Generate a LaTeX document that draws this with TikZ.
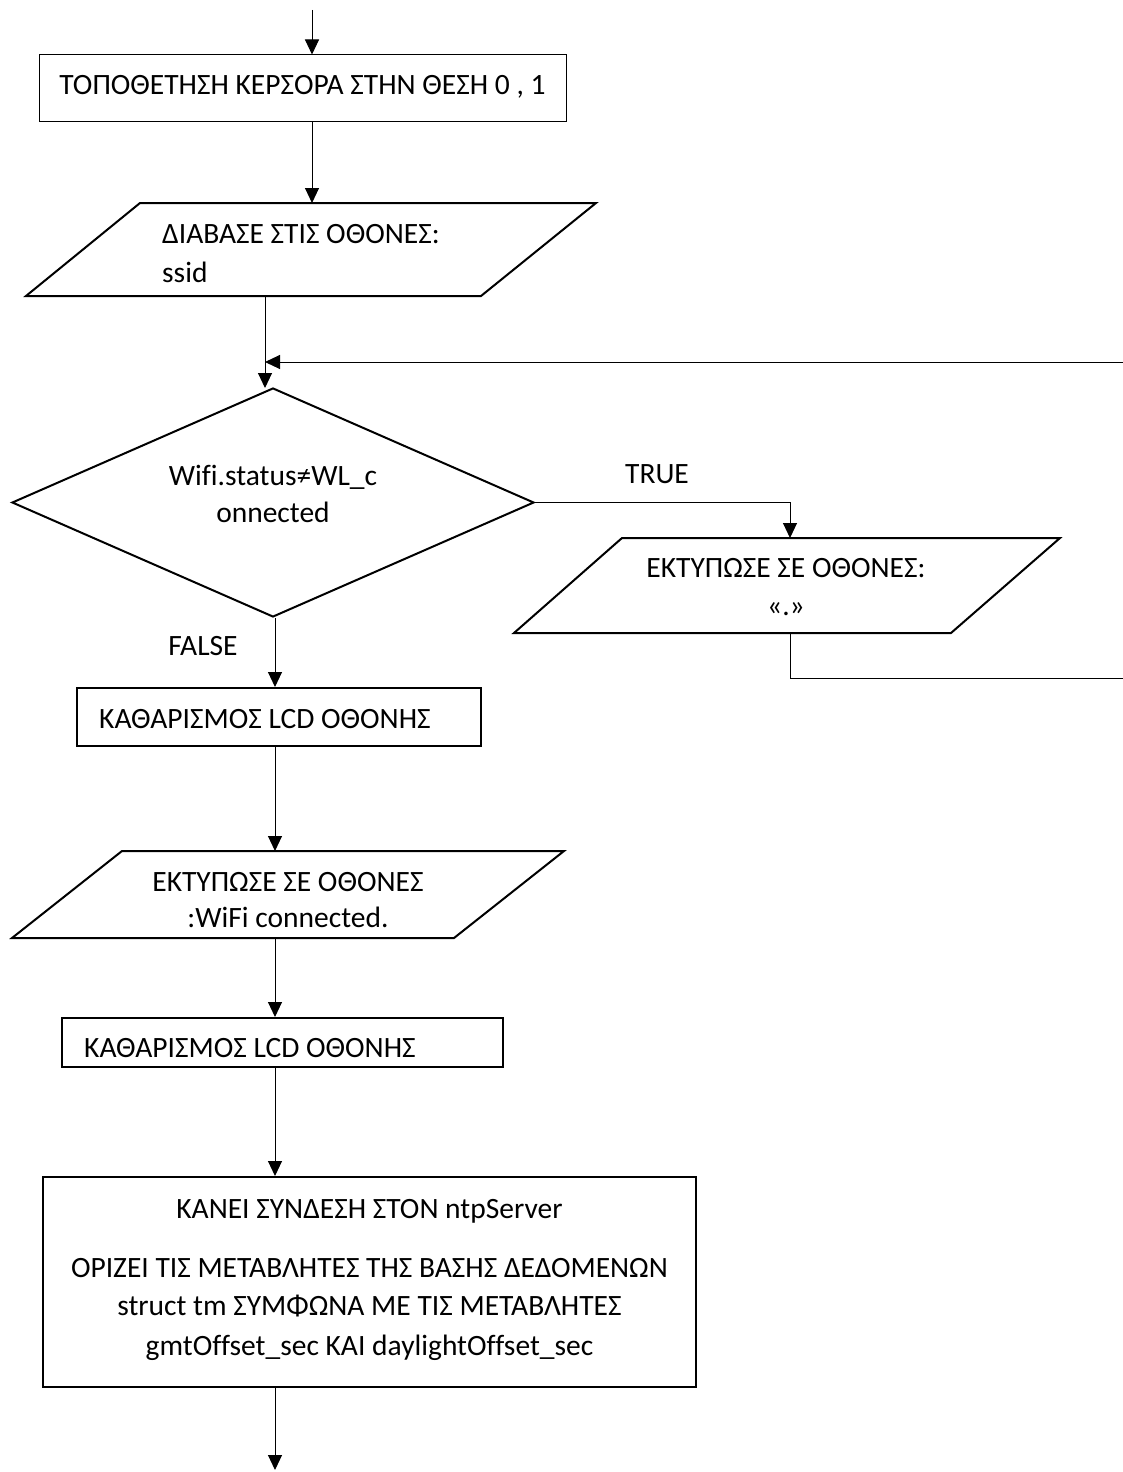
\documentclass[tikz,border=0pt]{standalone}
\usepackage{fontspec}
\setmainfont{Carlito}[Ligatures=NoCommon]
\usetikzlibrary{arrows.meta,shapes.geometric}
\begin{document}
\begin{tikzpicture}[x=1pt,y=-1pt,
  conn/.style={line width=1pt,-{Triangle[length=15pt,width=14pt]}},
  wire/.style={line width=1pt},
  thinbox/.style={draw,line width=1pt,inner sep=0pt},
  thickbox/.style={draw,line width=2pt,inner sep=0pt},
  txt/.style={font=\fontsize{29.5}{39}\selectfont,inner sep=0pt,anchor=base},
  txtl/.style={txt,anchor=base west}]
\useasboundingbox (0,0) rectangle (1123,1472);
\fill[white] (0,0) rectangle (1123,1472);

% entry point and loop edge points
\coordinate (entry) at (312,10);
\coordinate (loopin) at (1123,362);
\coordinate (loopout) at (1123,678);

% set cursor
\node[thinbox,minimum width=527pt,minimum height=66pt] (b1) at (302.5,88) {};
\node[txt] (t1) at (302.5,94) {ΤΟΠΟΘΕΤΗΣΗ ΚΕΡΣΟΡΑ ΣΤΗΝ ΘΕΣΗ 0 , 1};

% read ssid
\draw[line width=2pt] (140,203) coordinate (p1top) -- (596,203) -- (481,296) -- (26,296) -- cycle;
\coordinate (p1in) at (312,203);
\coordinate (p1out) at (265,296);
\node[txtl] (t2a) at (162,243) {ΔΙΑΒΑΣΕ ΣΤΙΣ ΟΘΟΝΕΣ:};
\node[txtl] (t2b) at (162,282) {ssid};

% wifi test
\node[draw,diamond,line width=2pt,inner sep=0pt,minimum width=522pt,minimum height=229pt] (d) at (273,502.5) {};
\coordinate (dtop) at (265,388);
\node[txt] (t3a) at (273,485) {Wifi.status≠WL\_c};
\node[txt] (t3b) at (273,522) {onnected};
\node[txt] (ltrue) at (657,483) {TRUE};
\node[txt] (lfalse) at (203,655) {FALSE};

% print dot
\draw[line width=2pt] (622,538) -- (1060,538) -- (951,633) -- (514,633) -- cycle;
\coordinate (p2in) at (790,538);
\coordinate (p2out) at (790,633);
\node[txt] (t4a) at (786,577) {ΕΚΤΥΠΩΣΕ ΣΕ ΟΘΟΝΕΣ:};
\node[txt] (t4b) at (786,615) {«.»};

% clear lcd
\node[thickbox,minimum width=404pt,minimum height=58pt] (b2) at (279,717) {};
\node[txtl] (t5) at (99,728) {ΚΑΘΑΡΙΣΜΟΣ LCD ΟΘΟΝΗΣ};

% print connected
\draw[line width=2pt] (122,851) -- (564,851) -- (454,938) -- (12,938) -- cycle;
\coordinate (p3in) at (275,851);
\coordinate (p3out) at (275,938);
\node[txt] (t6a) at (288,891) {ΕΚΤΥΠΩΣΕ ΣΕ ΟΘΟΝΕΣ};
\node[txt] (t6b) at (288,927) {:WiFi connected.};

% clear lcd again
\node[thickbox,minimum width=441pt,minimum height=49pt] (b3) at (282.5,1042.5) {};
\node[txtl] (t7) at (84,1057) {ΚΑΘΑΡΙΣΜΟΣ LCD ΟΘΟΝΗΣ};

% ntp setup
\node[thickbox,minimum width=653pt,minimum height=210pt] (b4) at (369.5,1282) {};
\node[txt] (t8a) at (369.5,1218) {ΚΑΝΕΙ ΣΥΝΔΕΣΗ ΣΤΟΝ ntpServer};
\node[txt] (t8b) at (369.5,1277) {ΟΡΙΖΕΙ ΤΙΣ ΜΕΤΑΒΛΗΤΕΣ ΤΗΣ ΒΑΣΗΣ ΔΕΔΟΜΕΝΩΝ};
\node[txt] (t8c) at (369.5,1315) {struct tm ΣΥΜΦΩΝΑ ΜΕ ΤΙΣ ΜΕΤΑΒΛΗΤΕΣ};
\node[txt] (t8d) at (369.5,1355) {gmtOffset\_sec ΚΑΙ daylightOffset\_sec};
\coordinate (exit) at (275,1470);

% connectors
\draw[conn] (entry) -- (entry |- b1.north);
\draw[conn] (entry |- b1.south) -- (p1in);
\draw[conn] (p1out) -- (dtop);
\draw[conn] (loopin) -- (p1out |- loopin);
\draw[conn] (d.east) -| (p2in);
\draw[wire] (p2out) |- (loopout);
\draw[conn] (d.south) ++(2,0) coordinate (dbot) -- (dbot |- b2.north);
\draw[conn] (p3in |- b2.south) -- (p3in);
\draw[conn] (p3out) -- (p3out |- b3.north);
\draw[conn] (p3out |- b3.south) -- (p3out |- b4.north);
\draw[conn] (p3out |- b4.south) -- (exit);
\end{tikzpicture}
\end{document}
